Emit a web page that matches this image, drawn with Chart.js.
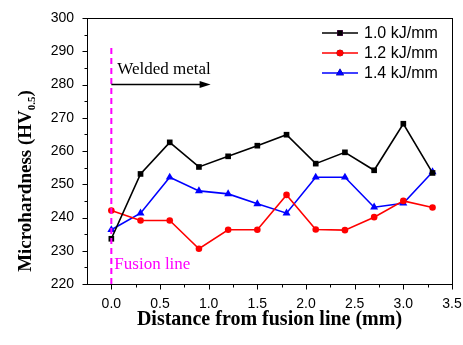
<!DOCTYPE html>
<html>
<head>
<meta charset="utf-8">
<script src="https://cdn.jsdelivr.net/npm/chart.js@4/dist/chart.umd.min.js"></script>
<style>
html,body{margin:0;padding:0;background:#fff;}
#wrap{width:463px;height:345px;}
</style>
</head>
<body>
<div id="wrap"><canvas id="c" width="463" height="345"></canvas></div>
<script>
// ---- data ----
const distances = [0.0, 0.3, 0.6, 0.9, 1.2, 1.5, 1.8, 2.1, 2.4, 2.7, 3.0, 3.3];
const hv10 = [233.6, 253.1, 262.6, 255.2, 258.4, 261.6, 264.9, 256.2, 259.6, 254.2, 268.2, 253.4];
const hv12 = [242.1, 239.1, 239.1, 230.6, 236.3, 236.3, 246.8, 236.4, 236.2, 240.1, 245.0, 243.0];
const hv14 = [236.3, 241.3, 252.1, 248.0, 247.1, 244.1, 241.3, 252.1, 252.1, 243.1, 244.3, 253.7];
const seriesLabels = ['1.0 kJ/mm', '1.2 kJ/mm', '1.4 kJ/mm'];
const xTickLabels = ['0.0', '0.5', '1.0', '1.5', '2.0', '2.5', '3.0', '3.5'];
const yTickLabels = ['220', '230', '240', '250', '260', '270', '280', '290', '300'];
const xTitle = 'Distance from fusion line (mm)';
const yTitleMain = 'Microhardness (HV';
const yTitleSub = '0.5';
const yTitleEnd = ')';
const noteWeld = 'Welded metal';
const noteFusion = 'Fusion line';

function pts(vals){ return distances.map((d,i)=>({x:d, y:vals[i]})); }

const colors = ['#000000', '#ff0000', '#0000ff'];
const shapes = ['rect', 'circle', 'triangle'];
const radii = [4, 3.3, 4.6];

const datasets = [hv10, hv12, hv14].map((v,i)=>({
  label: seriesLabels[i],
  data: pts(v),
  borderColor: colors[i],
  backgroundColor: colors[i],
  borderWidth: 1.6,
  pointStyle: shapes[i],
  pointRadius: radii[i],
  pointBorderWidth: 0,
  pointBackgroundColor: colors[i],
  tension: 0
}));

const near = (a,b)=>Math.abs(a-b)<1e-6;

const decor = {
  id: 'decor',
  afterDraw(chart){
    const ctx = chart.ctx;
    const xs = chart.scales.x, ys = chart.scales.y;
    const a = chart.chartArea;
    ctx.save();
    // frame
    ctx.strokeStyle = '#000'; ctx.lineWidth = 1;
    ctx.strokeRect(Math.round(a.left)+0.5, Math.round(a.top)+0.5, Math.round(a.right-a.left), Math.round(a.bottom-a.top));
    // ticks
    ctx.beginPath();
    const bottom = Math.round(a.bottom)+0.5, left = Math.round(a.left)+0.5;
    for (let k=0;k<=14;k++){
      const v = k*0.25;
      const px = Math.round(xs.getPixelForValue(v))+0.5;
      const len = (k%2===0)?5:3;
      ctx.moveTo(px,bottom); ctx.lineTo(px,bottom+len);
    }
    for (let k=0;k<=16;k++){
      const v = 220 + k*5;
      const py = Math.round(ys.getPixelForValue(v))+0.5;
      const len = (k%2===0)?5:3;
      ctx.moveTo(left,py); ctx.lineTo(left-len,py);
    }
    ctx.stroke();

    // fusion line (dashed magenta)
    const x0 = xs.getPixelForValue(0);
    ctx.strokeStyle = '#ff00ff'; ctx.lineWidth = 2; ctx.setLineDash([6,4]);
    ctx.beginPath();
    ctx.moveTo(x0, ys.getPixelForValue(291)); ctx.lineTo(x0, ys.getPixelForValue(220));
    ctx.stroke();
    ctx.setLineDash([]);

    // arrow
    const ay = ys.getPixelForValue(280);
    const ax2 = xs.getPixelForValue(1.02);
    ctx.strokeStyle = '#000'; ctx.fillStyle = '#000'; ctx.lineWidth = 1.5;
    ctx.beginPath(); ctx.moveTo(x0, ay); ctx.lineTo(ax2-6, ay); ctx.stroke();
    ctx.beginPath(); ctx.moveTo(ax2, ay); ctx.lineTo(ax2-11, ay-3.5); ctx.lineTo(ax2-11, ay+3.5); ctx.closePath(); ctx.fill();

    // notes
    ctx.font = '17px "Liberation Serif", "Times New Roman", serif';
    ctx.textAlign = 'left'; ctx.textBaseline = 'alphabetic';
    ctx.fillStyle = '#000';
    ctx.fillText(noteWeld, x0+6, ys.getPixelForValue(283.3));
    ctx.fillStyle = '#ff00ff';
    ctx.fillText(noteFusion, x0+3, ys.getPixelForValue(224.4));

    // legend
    ctx.font = '16px "Liberation Sans", Arial, sans-serif';
    ctx.textBaseline = 'middle';
    chart.data.datasets.forEach((ds,i)=>{
      const ly = 33 + i*20;
      ctx.strokeStyle = ds.borderColor; ctx.lineWidth = 1.6;
      ctx.beginPath(); ctx.moveTo(322, ly); ctx.lineTo(358, ly); ctx.stroke();
      Chart.helpers.drawPoint(ctx, {pointStyle: ds.pointStyle, radius: ds.pointRadius, borderWidth: 0}, 340, ly);
      ctx.fillStyle = ds.backgroundColor; ctx.fill();
      ctx.fillStyle = '#000';
      ctx.fillText(ds.label, 364, ly+1);
    });

    // axis titles
    ctx.fillStyle = '#000';
    ctx.font = 'bold 20px "Liberation Serif", "Times New Roman", serif';
    ctx.textAlign = 'center'; ctx.textBaseline = 'alphabetic';
    ctx.fillText(xTitle, (a.left+a.right)/2, 325);

    ctx.save();
    const fMain = 'bold 19px "Liberation Serif", "Times New Roman", serif';
    const fSub = 'bold 11px "Liberation Serif", "Times New Roman", serif';
    ctx.font = fMain; const w1 = ctx.measureText(yTitleMain).width; const w3 = ctx.measureText(yTitleEnd).width;
    ctx.font = fSub; const w2 = ctx.measureText(yTitleSub).width;
    const total = w1+w2+w3;
    ctx.translate(31, 181);
    ctx.rotate(-Math.PI/2);
    ctx.textAlign = 'left';
    let sx = -total/2;
    ctx.font = fMain; ctx.fillText(yTitleMain, sx, 0); sx += w1;
    ctx.font = fSub; ctx.fillText(yTitleSub, sx, 4); sx += w2;
    ctx.font = fMain; ctx.fillText(yTitleEnd, sx, 0);
    ctx.restore();

    ctx.restore();
  }
};

new Chart(document.getElementById('c'), {
  type: 'line',
  data: { datasets },
  options: {
    responsive: false,
    animation: false,
    devicePixelRatio: 1,
    layout: { padding: { left: 0, right: 11, top: 18, bottom: 0 } },
    plugins: { legend: { display: false }, tooltip: { enabled: false } },
    scales: {
      x: {
        type: 'linear', min: -0.25, max: 3.5,
        offset: false,
        grid: { display: false, drawTicks: false },
        border: { display: false },
        ticks: {
          stepSize: 0.25, autoSkip: false, maxRotation: 0, padding: 12,
          color: '#000', font: { family: '"Liberation Sans", Arial, sans-serif', size: 14 },
          callback: (v)=>{ const i = Math.round(v*2); return (v>=0 && near(v*2,i)) ? xTickLabels[i] : ''; }
        },
        afterFit: (s)=>{ s.height = 61; s.paddingLeft = 0; s.paddingRight = 0; }
      },
      y: {
        type: 'linear', min: 220, max: 300,
        grid: { display: false, drawTicks: false },
        border: { display: false },
        ticks: {
          stepSize: 5, autoSkip: false, padding: 13,
          color: '#000', font: { family: '"Liberation Sans", Arial, sans-serif', size: 14 },
          callback: (v)=>{ const i = Math.round((v-220)/10); return near((v-220)/10, i) ? yTickLabels[i] : ''; }
        },
        afterFit: (s)=>{ s.width = 87; s.paddingTop = 0; s.paddingBottom = 0; }
      }
    }
  },
  plugins: [decor]
});
</script>
</body>
</html>
